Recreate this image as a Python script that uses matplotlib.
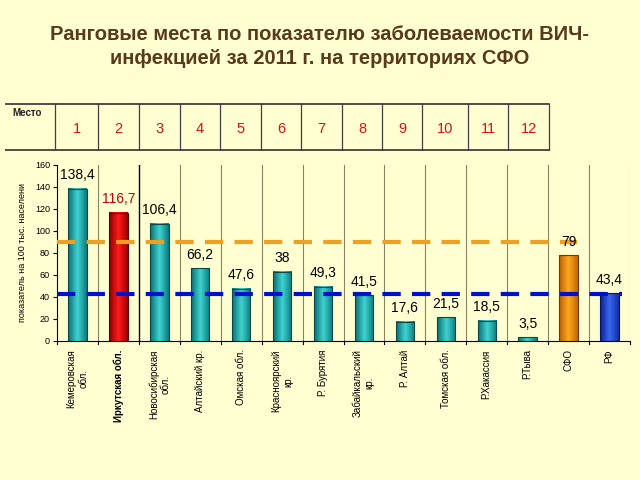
import numpy as np
import matplotlib.pyplot as plt
from matplotlib.colors import LinearSegmentedColormap

plt.rcParams['font.family'] = ['Liberation Sans', 'DejaVu Sans']

# данные
regions = ['Кемеровская\nобл.', 'Иркутская обл.', 'Новосибирская\nобл.', 'Алтайский кр.',
           'Омская обл.', 'Красноярский\nкр.', 'Р. Бурятия', 'Забайкальский\nкр.',
           'Р. Алтай', 'Томская обл.', 'Р.Хакассия', 'Р.Тыва', 'СФО', 'РФ']
values = [138.4, 116.7, 106.4, 66.2, 47.6, 63.0, 49.3, 41.5, 17.6, 21.5, 18.5, 3.5, 78.0, 43.4]
value_labels = ['138,4', '116,7', '106,4', '66,2', '47,6', '38', '49,3', '41,5',
                '17,6', '21,5', '18,5', '3,5', '79', '43,4']
kinds = ['t', 'r', 't', 't', 't', 't', 't', 't', 't', 't', 't', 't', 'o', 'b']
places = [str(i) for i in range(1, 13)]
sfo_level = 90
rf_level = 43

bg = '#FFFFD2'
palettes = {
    't': ['#0A6E6E', '#3FD3D3', '#0C7A7A'],
    'r': ['#8A0000', '#FF1A1A', '#A00000'],
    'o': ['#B86000', '#FFA820', '#C06800'],
    'b': ['#0A1E90', '#3A66F0', '#1030A8'],
}
edges = {'t': '#094848', 'r': '#5A0000', 'o': '#6A3A00', 'b': '#0A1560'}

fig = plt.figure(figsize=(6.4, 4.8), dpi=100, facecolor=bg)

fig.text(0.5, 0.903, 'Ранговые места по показателю заболеваемости ВИЧ-\nинфекцией за 2011 г. на территориях СФО',
         ha='center', va='center', fontsize=14.5, fontweight='bold', color='#5A3A1C', linespacing=1.35)

# таблица мест
tab = fig.add_axes([5 / 640, (480 - 151) / 480, 546 / 640, 48 / 480])
tab.set_xlim(5, 551)
tab.set_ylim(151, 103)
tab.axis('off')
cells = [55, 98, 139, 180, 220, 261, 301, 342, 382, 422, 468, 508, 549]
tab.plot([5, 549], [104, 104], color='#303030', lw=1.2)
tab.plot([5, 549], [150, 150], color='#303030', lw=1.2)
for x in cells:
    tab.plot([x, x], [104, 150], color='#404040', lw=0.9)
tab.text(12, 113, 'Место', fontsize=7, fontweight='bold', color='#222222', va='center')
for i, p in enumerate(places):
    tab.text((cells[i] + cells[i + 1]) / 2, 129, p, fontsize=10.5, color='#E01010',
             ha='center', va='center')

# основная диаграмма
ax = fig.add_axes([57 / 640, (480 - 341) / 480, 573 / 640, 176 / 480])
ax.set_facecolor(bg)
x = np.arange(len(values))
w = 0.45
grad = np.linspace(0, 1, 64).reshape(1, -1)
for i, v in enumerate(values):
    k = kinds[i]
    cmap = LinearSegmentedColormap.from_list('c', palettes[k])
    ax.imshow(grad, extent=[x[i] - w / 2, x[i] + w / 2, 0, v], aspect='auto', cmap=cmap, zorder=3)
    ax.bar(x[i], v, width=w, facecolor='none', edgecolor=edges[k], lw=0.8, zorder=4)
    ax.text(x[i], v + 6, value_labels[i], ha='center', va='bottom', fontsize=10,
            color='#C00000' if k == 'r' else 'black', zorder=6)

for b in np.arange(0.5, len(values), 1):
    ax.axvline(b, color='black' if b == 1.5 else '#8A8260', lw=1.0 if b == 1.5 else 0.8, zorder=1)

ax.plot([-0.5, 12.2], [sfo_level, sfo_level], color='#F0A020', lw=3, ls=(0, (4.4, 2.7)), zorder=5)
ax.plot([-0.5, 13.3], [rf_level, rf_level], color='#0010D0', lw=3, ls=(0, (4.4, 2.7)), zorder=5)

ax.set_xlim(-0.5, len(values) - 0.5)
ax.set_ylim(0, 160)
ax.set_yticks(range(0, 161, 20))
ax.tick_params(axis='y', labelsize=6.5, length=3, pad=2)
ax.set_xticks(x)
ax.set_xticklabels(regions, rotation=90, fontsize=7, va='top', ha='center', multialignment='center')
ax.tick_params(axis='x', length=0, pad=6)
for b in np.arange(-0.5, len(values), 1):
    ax.plot([b, b], [0, -3], color='black', lw=0.8, clip_on=False)
ax.xaxis.get_ticklabels()[1].set_fontweight('bold')
ax.spines['top'].set_visible(False)
ax.spines['right'].set_visible(False)
ax.set_ylabel('показатель на 100 тыс. населени', fontsize=6.5, labelpad=6)

plt.savefig('out.png', dpi=100, facecolor=bg)
